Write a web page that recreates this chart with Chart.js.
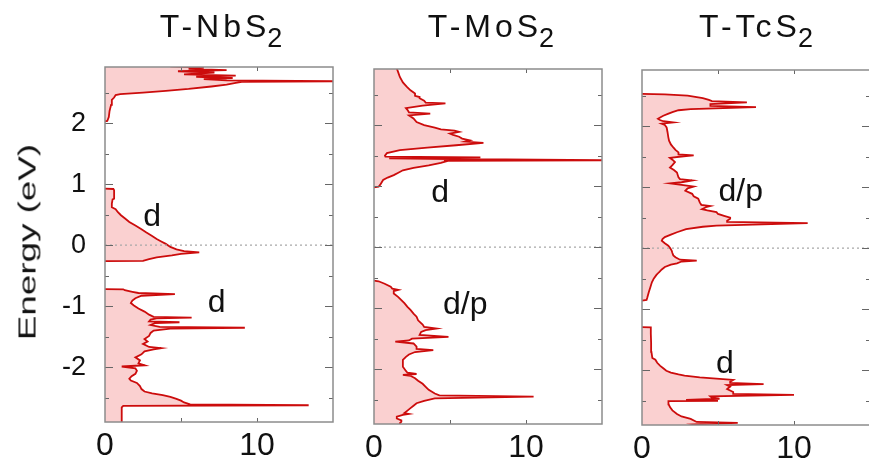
<!DOCTYPE html>
<html>
<head>
<meta charset="utf-8">
<script src="https://cdn.jsdelivr.net/npm/chart.js@4.4.0/dist/chart.umd.min.js"></script>
<style>
  html, body { margin: 0; padding: 0; width: 869px; height: 465px; overflow: hidden; background: #fff; }
  #wrap { position: relative; width: 869px; height: 465px; }
  canvas { position: absolute; top: 0; }
  .ttl { position: absolute; top: 10px; font: 32px "Liberation Sans", Arial, sans-serif; line-height: 32px;
         letter-spacing: 4px; color: #111; white-space: nowrap; transform: translateX(-50%); }
  .ttl span { font-size: 27px; position: relative; top: 10px; letter-spacing: 0; margin-left: -3px; }
  .ylab { position: absolute; left: 28px; top: 242px; font: 23px "Liberation Sans", Arial, sans-serif; line-height: 23px;
          color: #111; white-space: nowrap; transform: translate(-50%, -50%) rotate(-90deg) scaleX(1.6); }
</style>
</head>
<body>
<div id="wrap">
  <canvas id="nb" width="345" height="465" style="left:0px"></canvas>
  <canvas id="mo" width="270" height="465" style="left:345px"></canvas>
  <canvas id="tc" width="256" height="465" style="left:615px"></canvas>
  <div class="ttl" style="left:221px">T-NbS<span>2</span></div>
  <div class="ttl" style="left:491px">T-MoS<span>2</span></div>
  <div class="ttl" style="left:756px">T-TcS<span>2</span></div>
  <div class="ylab">Energy (eV)</div>
</div>
<script>
// Axis settings shared by the three panels
const energyRange = [-2.9, 2.92];
const dosRange = [0, 15];
const energyTickLabels = [-2, -1, 0, 1, 2];
const dosTickLabels = [0, 10];
const energyTickMarks = [-2.5, -2, -1.5, -1, -0.5, 0, 0.5, 1, 1.5, 2, 2.5];
const dosTickMarks = [5, 10];

// T-NbS2 density of states (energy in eV, DOS in states/eV); null separates bands
const nbEnergy = [
  -2.90, -2.66, -2.635, -2.625, -2.612, -2.58, -2.55, -2.52, -2.49, -2.46, -2.43, -2.40, -2.36, -2.31, -2.26,
  -2.22, -2.19, -2.15, -2.11, -2.06, -2.02, -1.99, -1.97, -1.94, -1.89, -1.84, -1.79, -1.74, -1.71, -1.69,
  -1.67, -1.62, -1.58, -1.54, -1.49, -1.44, -1.40, -1.37, -1.355, -1.34, -1.31, -1.28, -1.265, -1.25, -1.22,
  -1.20, -1.19, -1.175, -1.14, -1.09, -1.04, -0.99, -0.95, -0.91, -0.87, -0.83, -0.805, -0.785, -0.765, -0.74,
  -0.725, -0.72, -0.5,
  -0.262, -0.258, -0.23, -0.20, -0.17, -0.145, -0.12, -0.10, -0.07, -0.03, 0.02, 0.06, 0.10, 0.15, 0.21,
  0.26, 0.32, 0.38, 0.44, 0.49, 0.54, 0.59, 0.62, 0.68, 0.75, 0.76, 0.90, 0.92, 0.925, 1.5,
  2.03, 2.035, 2.10, 2.20, 2.30, 2.38, 2.42, 2.46, 2.475, 2.50, 2.53, 2.56, 2.60, 2.63, 2.66,
  2.675, 2.685, 2.70, 2.72, 2.74, 2.76, 2.78, 2.80, 2.83, 2.85, 2.87, 2.89, 2.91, 2.93
];
const nbDos = [
  1.10, 1.10, 1.20, 13.4, 5.6, 5.2, 5.0, 4.7, 4.3, 3.8, 3.1, 2.6, 2.4, 2.3, 2.1,
  1.7, 1.6, 1.75, 2.0, 2.1, 2.0, 1.1, 2.6, 2.2, 2.3, 2.0, 2.4, 2.6, 3.2, 3.7,
  2.9, 2.5, 2.8, 2.6, 2.9, 3.0, 3.2, 4.3, 9.2, 3.6, 3.0, 3.3, 4.9, 2.9, 3.0,
  3.4, 5.7, 3.2, 2.9, 2.6, 2.2, 1.9, 1.7, 1.8, 2.0, 2.4, 4.6, 2.2, 1.8, 1.3,
  1.2, 0, null,
  0, 2.5, 2.9, 3.4, 4.4, 5.0, 6.2, 5.2, 4.7, 4.3, 4.0, 3.7, 3.4, 3.1, 2.7,
  2.4, 2.0, 1.6, 1.3, 1.05, 0.85, 0.7, 0.45, 0.45, 0.5, 0.6, 0.6, 0.55, 0, null,
  0, 0.15, 0.25, 0.3, 0.4, 0.45, 0.6, 0.7, 1.0, 2.5, 4.0, 5.5, 7.0, 8.0, 8.6,
  9.0, 15.5, 8.0, 6.5, 8.4, 6.0, 8.6, 5.2, 7.2, 4.8, 8.0, 5.5, 6.5, 4.3
];

// T-MoS2 density of states
const moEnergy = [
  -2.92, -2.89, -2.86, -2.84, -2.81, -2.78, -2.75, -2.735, -2.72, -2.68, -2.64, -2.60, -2.56, -2.52, -2.48,
  -2.45, -2.43, -2.40, -2.34, -2.29, -2.24, -2.19, -2.15, -2.11, -2.095, -2.08, -2.06, -2.03, -1.96, -1.90,
  -1.85, -1.80, -1.76, -1.72, -1.69, -1.67, -1.63, -1.58, -1.55, -1.53, -1.50, -1.47, -1.44, -1.39, -1.36,
  -1.335, -1.31, -1.27, -1.20, -1.14, -1.09, -1.03, -0.98, -0.92, -0.87, -0.82, -0.76, -0.72, -0.70, -0.68,
  -0.65, -0.60, -0.56, -0.55, 0.2,
  0.98, 0.99, 1.02, 1.06, 1.10, 1.14, 1.18, 1.22, 1.26, 1.30, 1.34, 1.38, 1.41, 1.415, 1.425,
  1.44, 1.455, 1.47, 1.485, 1.50, 1.54, 1.59, 1.63, 1.67, 1.71, 1.73, 1.75, 1.78, 1.81, 1.84,
  1.86, 1.89, 1.91, 1.93, 1.96, 2.00, 2.05, 2.11, 2.16, 2.19, 2.21, 2.25, 2.28, 2.32, 2.355,
  2.37, 2.40, 2.44, 2.46, 2.48, 2.52, 2.57, 2.63, 2.70, 2.79, 2.86, 2.93
];
const moDos = [
  1.7, 1.7, 1.8, 1.8, 1.5, 1.5, 1.9, 2.3, 2.0, 2.2, 2.4, 2.6, 2.8, 3.3, 4.0,
  10.5, 4.3, 4.0, 3.6, 3.4, 3.2, 2.9, 2.7, 2.4, 1.9, 2.8, 2.2, 2.1, 1.9, 1.9,
  1.9, 2.1, 2.3, 2.7, 3.9, 2.8, 2.8, 2.6, 1.4, 2.3, 2.5, 4.9, 3.0, 3.1, 3.4,
  4.1, 3.3, 3.2, 2.9, 2.8, 2.6, 2.4, 2.2, 2.0, 1.8, 1.6, 1.3, 1.3, 1.6, 1.2,
  1.1, 0.7, 0.3, 0, null,
  0, 0.3, 0.4, 0.5, 0.6, 0.9, 1.3, 1.6, 1.9, 2.6, 3.6, 4.4, 4.8, 4.6, 16,
  6.5, 1.0, 7.0, 0.75, 0.72, 0.85, 1.7, 3.5, 5.4, 7.2, 6.0, 6.3, 5.8, 5.6, 5.2,
  5.0, 5.6, 5.3, 4.4, 4.0, 3.3, 2.8, 2.6, 2.3, 3.7, 2.3, 2.2, 2.1, 3.2, 4.7,
  3.4, 3.3, 3.0, 3.0, 2.7, 2.7, 2.4, 2.15, 1.9, 1.7, 1.6, 1.5
];

// T-TcS2 density of states
const tcEnergy = [
  -2.92, -2.89, -2.865, -2.85, -2.80, -2.76, -2.72, -2.66, -2.61, -2.56, -2.52, -2.51, -2.505, -2.49, -2.47,
  -2.45, -2.43, -2.405, -2.39, -2.36, -2.31, -2.27, -2.245, -2.23, -2.21, -2.19, -2.16, -2.12, -2.09, -2.07,
  -2.04, -2.01, -1.97, -1.93, -1.88, -1.83, -1.80, -1.70, -1.55, -1.40, -1.30, -1.295, -1.1,
  -0.86, -0.85, -0.81, -0.72, -0.64, -0.56, -0.50, -0.44, -0.40, -0.35, -0.31, -0.27, -0.25, -0.22, -0.205,
  -0.19, -0.15, -0.12, -0.08, -0.04, 0.00, 0.04, 0.08, 0.12, 0.15, 0.18, 0.22, 0.26, 0.31, 0.35,
  0.37, 0.41, 0.43, 0.45, 0.48, 0.50, 0.53, 0.56, 0.59, 0.62, 0.64, 0.67, 0.69, 0.71, 0.75,
  0.81, 0.85, 0.89, 0.94, 0.98, 1.01, 1.035, 1.06, 1.08, 1.11, 1.13, 1.16, 1.20, 1.24, 1.28,
  1.32, 1.36, 1.41, 1.45, 1.48, 1.51, 1.52, 1.535, 1.57, 1.61, 1.65, 1.70, 1.76, 1.82, 1.90,
  1.98, 2.02, 2.04, 2.06, 2.08, 2.10, 2.12, 2.15, 2.17, 2.20, 2.23, 2.26, 2.28, 2.31, 2.33,
  2.36, 2.39, 2.41, 2.43, 2.46, 2.50, 2.52, 2.53
];
const tcDos = [
  4.0, 3.4, 6.3, 3.6, 3.2, 2.6, 2.3, 2.0, 1.85, 1.75, 1.73, 1.75, 5.0, 2.9, 5.1,
  4.6, 4.5, 10.0, 6.0, 6.0, 5.6, 5.8, 5.6, 8.0, 5.8, 5.8, 6.0, 3.8, 2.8, 2.4,
  1.9, 1.6, 1.4, 1.2, 1.0, 0.88, 0.68, 0.62, 0.60, 0.58, 0.58, 0, null,
  0, 0.3, 0.35, 0.45, 0.55, 0.65, 0.77, 0.95, 1.1, 1.3, 1.5, 1.9, 2.3, 2.6, 3.6,
  2.5, 2.2, 2.06, 2.0, 1.95, 1.85, 1.73, 1.5, 1.3, 1.35, 1.5, 1.9, 2.3, 2.9, 4.0,
  4.9, 10.9, 5.6, 5.6, 5.8, 5.8, 5.4, 5.0, 4.9, 4.3, 3.95, 4.2, 4.5, 3.9, 3.8,
  3.7, 3.4, 3.3, 2.85, 3.0, 3.4, 2.6, 1.84, 2.6, 3.3, 2.5, 2.4, 2.35, 2.3, 2.1,
  1.84, 2.0, 2.17, 2.0, 1.84, 2.9, 3.4, 2.4, 2.4, 2.2, 2.06, 1.9, 1.78, 1.73, 1.68,
  1.62, 1.5, 1.3, 2.06, 1.4, 1.18, 1.05, 1.25, 1.4, 1.7, 2.0, 2.4, 3.2, 7.5, 4.5,
  4.5, 6.9, 4.6, 4.4, 4.0, 3.0, 1.5, 0
];

// Orbital-character labels: text, DOS position, energy of the text baseline
const nbLabels = [['d', 3.1, 0.31], ['d', 7.35, -1.10]];
const moLabels = [['d', 4.35, 0.74], ['d/p', 6.0, -1.09]];
const tcLabels = [['d/p', 6.5, 0.78], ['d', 5.45, -2.04]];

const FONT = '"Liberation Sans", Arial, sans-serif';

// Gnuplot-style frame with inward ticks on all four sides
const frameTicks = {
  id: 'frameTicks',
  afterDatasetsDraw(chart) {
    const { ctx, chartArea: a, scales: { x, y } } = chart;
    ctx.save();
    ctx.strokeStyle = '#666';
    ctx.lineWidth = 1;
    ctx.beginPath();
    for (const e of energyTickMarks) {
      const py = Math.round(y.getPixelForValue(e)) + 0.5;
      const len = Number.isInteger(e) ? 8 : 4;
      ctx.moveTo(a.left, py); ctx.lineTo(a.left + len, py);
      ctx.moveTo(a.right, py); ctx.lineTo(a.right - len, py);
    }
    for (const d of dosTickMarks) {
      const px = Math.round(x.getPixelForValue(d)) + 0.5;
      ctx.moveTo(px, a.bottom); ctx.lineTo(px, a.bottom - 4);
      ctx.moveTo(px, a.top); ctx.lineTo(px, a.top + 4);
    }
    ctx.stroke();
    ctx.strokeStyle = '#8c8c8c';
    ctx.lineWidth = 1.5;
    ctx.strokeRect(a.left, a.top, a.right - a.left, a.bottom - a.top);
    ctx.restore();
  }
};

// Band character annotations placed in data coordinates
const bandLabels = {
  id: 'bandLabels',
  afterDatasetsDraw(chart, args, opts) {
    const { ctx, scales: { x, y } } = chart;
    ctx.save();
    ctx.fillStyle = '#111';
    ctx.font = '32px ' + FONT;
    ctx.textAlign = 'center';
    ctx.textBaseline = 'alphabetic';
    for (const [text, d, e] of opts.items) {
      ctx.fillText(text, x.getPixelForValue(d), y.getPixelForValue(e));
    }
    ctx.restore();
  }
};

function dosChart(id, energy, dos, labels, box, showEnergyAxis) {
  const points = energy.map((e, i) => ({ x: dos[i], y: e }));
  return new Chart(document.getElementById(id), {
    type: 'line',
    data: {
      datasets: [
        { data: [{ x: dosRange[0], y: 0 }, { x: dosRange[1], y: 0 }], borderColor: '#a8a8a8', borderWidth: 1.3,
          borderDash: [2, 3], pointRadius: 0, fill: false },
        { data: points, borderColor: '#cc0c0c', borderWidth: 1.8, backgroundColor: '#fad0d0',
          fill: 'origin', pointRadius: 0, tension: 0 }
      ]
    },
    options: {
      indexAxis: 'y',
      responsive: false,
      animation: false,
      devicePixelRatio: 1,
      layout: { padding: { left: box.padL, right: box.padR, top: box.top, bottom: 0 } },
      plugins: { legend: { display: false }, tooltip: { enabled: false }, bandLabels: { items: labels } },
      scales: {
        x: {
          type: 'linear', min: dosRange[0], max: dosRange[1],
          grid: { display: false, drawTicks: false }, border: { display: false },
          afterBuildTicks: s => { s.ticks = dosTickLabels.map(v => ({ value: v })); },
          afterFit: s => { s.height = 465 - box.bottom; },
          ticks: { padding: 5, color: '#111', font: { family: FONT, size: 32 } }
        },
        y: {
          type: 'linear', min: energyRange[0], max: energyRange[1], display: showEnergyAxis,
          grid: { display: false, drawTicks: false }, border: { display: false },
          afterBuildTicks: s => { s.ticks = energyTickLabels.map(v => ({ value: v })); },
          afterFit: s => { s.width = box.axisW; },
          ticks: { padding: 19, color: '#111', font: { family: FONT, size: 27 } }
        }
      }
    },
    plugins: [frameTicks, bandLabels]
  });
}

dosChart('nb', nbEnergy, nbDos, nbLabels, { padL: 0, padR: 12, top: 67, bottom: 422, axisW: 105 }, true);
dosChart('mo', moEnergy, moDos, moLabels, { padL: 29, padR: 13, top: 69, bottom: 424, axisW: 0 }, false);
dosChart('tc', tcEnergy, tcDos, tcLabels, { padL: 27, padR: 1, top: 70, bottom: 425, axisW: 0 }, false);
</script>
</body>
</html>
